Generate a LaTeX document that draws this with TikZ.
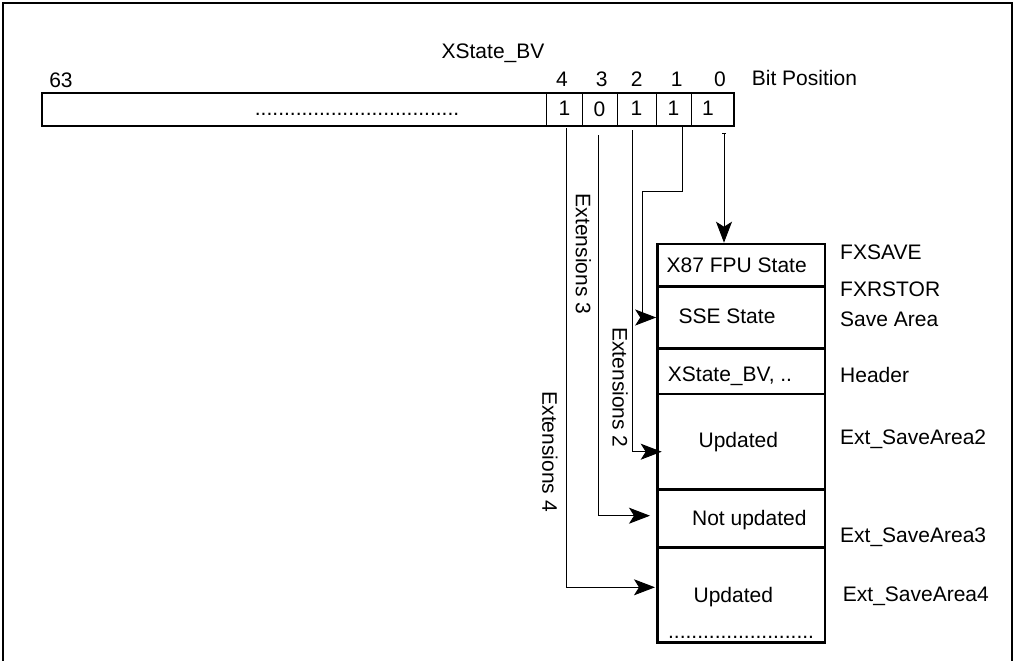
\documentclass[tikz,border=0pt]{standalone}
\usepackage{fontspec}
\setmainfont{Liberation Sans}
\usetikzlibrary{arrows.meta}
\begin{document}
\begin{tikzpicture}[x=1pt,y=-1pt,
  font=\fontsize{21}{25}\selectfont,
  lab/.style={inner sep=0pt, anchor=base},
  labw/.style={inner sep=0pt, anchor=base west},
  rot/.style={inner sep=0pt, rotate=-90},
  cell/.style={draw, line width=1pt, inner sep=0pt, minimum height=33pt},
  row/.style={draw, line width=2.6pt, inner sep=0pt, minimum width=167.5pt},
  conn/.style={line width=1pt},
  tip/.style={-{Stealth[length=21pt,width=16pt,inset=5pt]}},
  bartip/.style={{Bar[width=4pt]}-{Stealth[length=21pt,width=16pt,inset=5pt]}},
]
\useasboundingbox (0,0) rectangle (1015,661);
% outer frame
\draw[line width=2.7pt, line join=miter] (3,661) -- (3,3) -- (1012,3) -- (1012,661);

% header texts
\node[lab] (t63) at (61,87.5) {63};
\node[lab] (tbv) at (493,59) {XState\_BV};
\node[lab] (p4) at (562,86) {4};
\node[lab] (p3) at (601.7,86) {3};
\node[lab] (p2) at (636.7,86) {2};
\node[lab] (p1) at (676.7,86) {1};
\node[lab] (p0) at (720,86) {0};
\node[labw] (tbp) at (751.7,85.5) {Bit Position};

% register cells
\node[cell, minimum width=35.3pt] (c4) at (564.35,109.5) {\raisebox{1.5pt}{1}};
\node[cell, minimum width=35pt] (c3) at (599.5,109.5) {\raisebox{1.5pt}{0}};
\node[cell, minimum width=39pt] (c2) at (636.5,109.5) {\raisebox{1.5pt}{1}};
\node[cell, minimum width=35pt] (c1) at (673.5,109.5) {\raisebox{1.5pt}{1}};
\node[cell, minimum width=43pt] (c0) at (712.5,109.5) {\hspace*{-9pt}\raisebox{1.5pt}{1}};
\node[draw, line width=2.7pt, inner sep=0pt, minimum width=692pt, minimum height=33pt] (reg) at (388,109.5) {};
\node[lab] (rdots) at (357,115) {...................................};

% memory layout rows
\node[row, minimum height=42.7pt] (r1) at (741.25,265.35) {};
\node[row, minimum height=61.6pt] (r2) at (741.25,317.5) {};
\node[row, minimum height=45.7pt] (r3) at (741.25,371.15) {};
\node[row, minimum height=95.3pt] (r4) at (741.25,441.65) {};
\node[row, minimum height=58.4pt] (r5) at (741.25,518.5) {};
\node[row, minimum height=94.6pt] (r6) at (741.25,595) {};

\node[lab] (l1) at (736.7,272.5) {X87 FPU State};
\node[lab] (l2) at (727,323.5) {SSE State};
\node[lab] (l3) at (730,381) {XState\_BV, ..};
\node[lab] (l4) at (738.3,447) {Updated};
\node[lab] (l5) at (749.3,525) {Not updated};
\node[lab] (l6) at (733.3,602) {Updated};
\node[lab] (l7) at (741,638.5) {.........................};

% right labels
\node[labw] (n1) at (840,259) {FXSAVE};
\node[labw] (n2) at (840,296) {FXRSTOR};
\node[labw] (n3) at (840,326) {Save Area};
\node[labw] (n4) at (840,382.5) {Header};
\node[labw] (n5) at (840,444) {Ext\_SaveArea2};
\node[labw] (n6) at (840,542.5) {Ext\_SaveArea3};
\node[labw] (n7) at (842.7,601) {Ext\_SaveArea4};

% connector start and end points
\coordinate (s4) at (566,128);
\coordinate (s3) at (598.3,135);
\coordinate (s2) at (632.7,130);
\coordinate (s1) at (682.3,126);
\coordinate (s0) at (724,132.7);
\coordinate (k1) at (642.7,191.7);
\coordinate (t2) at (661.7,451.7);
\coordinate (t3) at (650,515.7);
\coordinate (t4) at (655,587.3);

\draw[conn,bartip] (s0) -- (s0 |- r1.north);
\draw[conn,tip] (s1) |- (k1) |- (r2.west);
\draw[conn,tip] (s2) |- (t2);
\draw[conn,tip] (s3) |- (t3);
\draw[conn,tip] (s4) |- (t4);

% rotated labels
\node[rot] (e3) at (583.3,254) {Extensions 3};
\node[rot] (e2) at (620,387.5) {Extensions 2};
\node[rot] (e4) at (550,451.7) {Extensions 4};
\end{tikzpicture}
\end{document}
